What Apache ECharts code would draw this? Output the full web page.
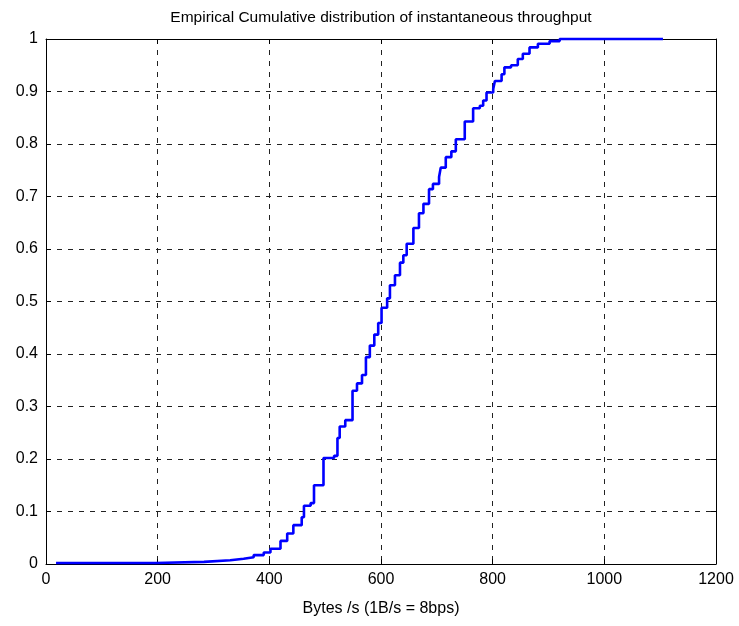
<!DOCTYPE html>
<html>
<head>
<meta charset="utf-8">
<script src="https://cdn.jsdelivr.net/npm/echarts@6/dist/echarts.min.js"></script>
<style>
html,body{margin:0;padding:0;background:#fff;}
#chart{width:739px;height:626px;}
</style>
</head>
<body>
<div id="chart"></div>
<script>
// Throughput values (Bytes/s) at which the empirical CDF steps
const throughput = [18,196,283,330,354,372,390,402,420,432,443,458,462,474,480,497,516,522,526,536,549,557,566,573,580,588,595,601,611,616,625,634,640,646,658,668,676,686,693,704,707,716,726,734,750,765,777,783,789,801,804,816,821,833,845,854,866,881,902,920,1105];
// Cumulative probability after each step
const cumProb = [0.002,0.004,0.007,0.010,0.013,0.017,0.022,0.029,0.044,0.058,0.074,0.089,0.111,0.116,0.150,0.202,0.206,0.240,0.262,0.274,0.330,0.344,0.360,0.394,0.416,0.437,0.459,0.488,0.506,0.531,0.550,0.574,0.588,0.610,0.640,0.668,0.686,0.714,0.724,0.737,0.755,0.775,0.786,0.809,0.843,0.868,0.873,0.883,0.898,0.905,0.920,0.933,0.946,0.950,0.962,0.972,0.984,0.991,0.996,1.0,1.0];

const titleText = 'Empirical Cumulative distribution of instantaneous throughput';
const xLabel = 'Bytes /s (1B/s = 8bps)';

const FONT = '"Liberation Sans",Arial,sans-serif';
const chart = echarts.init(document.getElementById('chart'), null, {renderer:'canvas'});

const gridLine = {show:true, lineStyle:{color:'#222', width:1, type:[5,6]}};
const boxLine = {show:true, onZero:false, lineStyle:{color:'#000', width:1}};
const tick = {show:true, inside:true, length:5, lineStyle:{color:'#000'}};

chart.setOption({
  animation:false,
  backgroundColor:'#fff',
  title:{text:titleText, left:376, top:5, textAlign:'center',
    textStyle:{fontFamily:FONT, fontSize:15.5, fontWeight:'normal', color:'#000'}},
  grid:{left:46, right:23, top:39, bottom:62, containLabel:false},
  xAxis:[{
    type:'value', min:0, max:1200, interval:200, position:'bottom',
    axisLine:boxLine, axisTick:tick, splitLine:gridLine,
    axisLabel:{fontFamily:FONT, fontSize:16, color:'#000', margin:8, formatter:v=>String(v)},
    name:xLabel, nameLocation:'middle', nameGap:37,
    nameTextStyle:{fontFamily:FONT, fontSize:16, color:'#000'}
  },{
    type:'value', min:0, max:1200, interval:200, position:'top',
    axisLine:boxLine, axisTick:tick, splitLine:{show:false}, axisLabel:{show:false}
  }],
  yAxis:[{
    type:'value', min:0, max:1, interval:0.1, position:'left',
    axisLine:boxLine, axisTick:tick, splitLine:gridLine,
    axisLabel:{fontFamily:FONT, fontSize:16, color:'#000', margin:8, formatter:v=>String(Math.round(v*10)/10)}
  },{
    type:'value', min:0, max:1, interval:0.1, position:'right',
    axisLine:boxLine, axisTick:tick, splitLine:{show:false}, axisLabel:{show:false}
  }],
  series:[{
    type:'line', step:'end', showSymbol:false, xAxisIndex:0, yAxisIndex:0,
    data: throughput.map((v,i)=>[v, cumProb[i]]),
    lineStyle:{color:'#0000ff', width:2.6}, clip:false
  }]
});
</script>
</body>
</html>
